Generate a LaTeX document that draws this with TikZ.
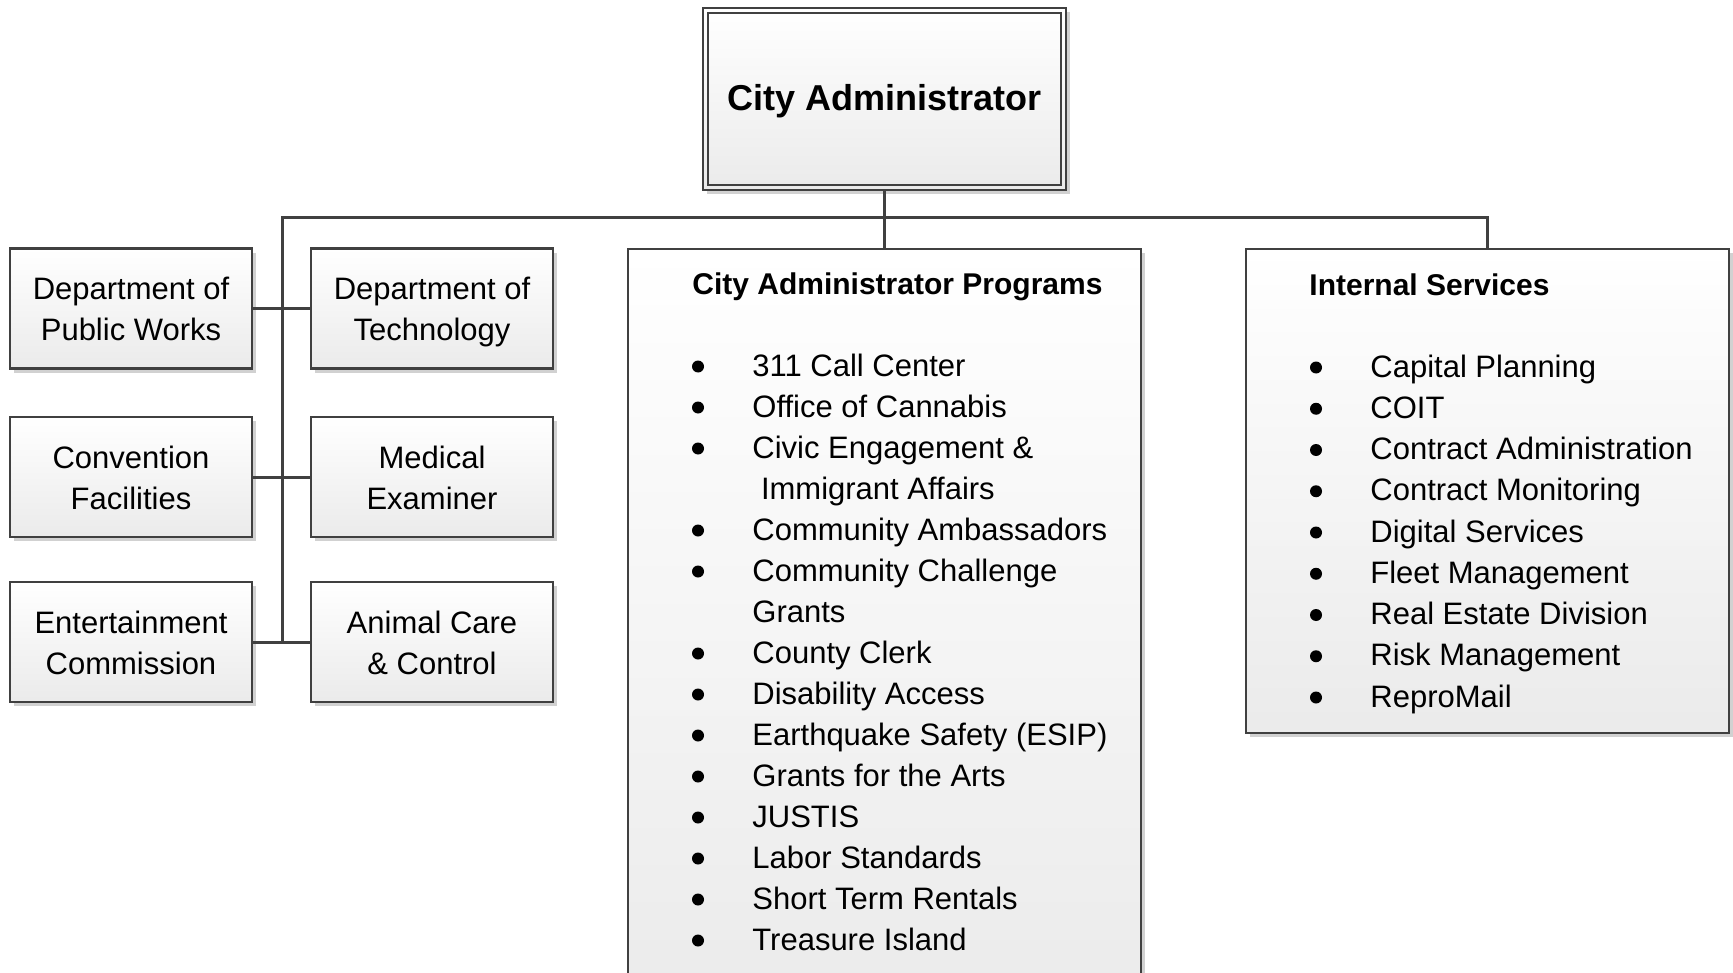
\documentclass[tikz,border=0pt]{standalone}
\usepackage{fontspec}
\setmainfont{Liberation Sans}
\usetikzlibrary{shadows}
\definecolor{edge}{HTML}{404040}
\newcommand\twoline[2]{\raisebox{-1.7pt}[\height][\depth]{\begin{tabular}{@{}c@{}}#1\\#2\end{tabular}}}
\tikzset{
  box/.style={draw=edge, line width=1.1pt, top color=white, bottom color=black!8,
    drop shadow={shadow xshift=2pt, shadow yshift=-2pt, opacity=0.18, fill=black},
    inner sep=0pt, align=center, font=\fontsize{15.5}{20.5}\selectfont},
  conn/.style={draw=edge, line width=1.5pt},
  item/.style={anchor=base west, inner sep=0pt, font=\fontsize{15.5}{20.5}\selectfont},
  head/.style={anchor=base west, inner sep=0pt, font=\fontsize{15}{18}\selectfont\bfseries},
  dot/.style={circle, fill=black, inner sep=0pt, minimum size=6pt},
}
\begin{document}
\begin{tikzpicture}[x=0.5pt, y=-0.5pt]
\useasboundingbox (0,0) rectangle (1733,973);
\clip (0,0) rectangle (1733,973);
\fill[white] (0,0) rectangle (1733,973);

% top box
\node[box, minimum width=181.5pt, minimum height=91pt,
      font=\fontsize{18}{22}\selectfont\bfseries] (ca) at (884.5,99) {\raisebox{-1.1pt}[\height][\depth]{City Administrator}};
\draw[draw=edge, line width=1.1pt] ([shift={(3pt,-3pt)}]ca.north west) rectangle ([shift={(-3pt,3pt)}]ca.south east);

% left units
\node[box, minimum width=121pt, minimum height=60pt] (l1) at (131,308.5) {\twoline{Department of}{Public Works}};
\node[box, minimum width=121pt, minimum height=60pt] (t1) at (432,308.5) {\twoline{Department of}{Technology}};
\node[box, minimum width=121pt, minimum height=60pt] (l2) at (131,477) {\twoline{Convention}{Facilities}};
\node[box, minimum width=121pt, minimum height=60pt] (t2) at (432,477) {\twoline{Medical}{Examiner}};
\node[box, minimum width=121pt, minimum height=60pt] (l3) at (131,642) {\twoline{Entertainment}{Commission}};
\node[box, minimum width=121pt, minimum height=60pt] (t3) at (432,642) {\twoline{Animal Care}{\& Control}};

% program and services boxes
\node[box, minimum width=256.5pt, minimum height=380.5pt] (prog) at (884.5,629.5) {};
\node[box, minimum width=241.5pt, minimum height=242pt] (svc) at (1487.5,491) {};

% connectors
\coordinate (busL) at (282,218);
\draw[conn] (ca.south) -- (prog.north);
\draw[conn] (busL |- t3.west) -- (busL) -- (svc.north |- busL) -- (svc.north);
\draw[conn] (l1.east) -- (t1.west);
\draw[conn] (l2.east) -- (t2.west);
\draw[conn] (l3.east) -- (t3.west);

% program list
\node[head] (progh) at (692,294) {City Administrator Programs};
\foreach \b/\t [count=\i from 0] in {
  1/311 Call Center, 1/Office of Cannabis, 1/Civic Engagement \&, 0/{\ Immigrant Affairs},
  1/Community Ambassadors, 1/Community Challenge, 0/Grants, 1/County Clerk,
  1/Disability Access, 1/Earthquake Safety (ESIP), 1/Grants for the Arts, 1/JUSTIS,
  1/Labor Standards, 1/Short Term Rentals, 1/Treasure Island} {
  \node[item] (pi\i) at (752,{376+41*\i}) {\t};
  \ifnum\b=1 \node[dot] (pb\i) at (698,{366.5+41*\i}) {}; \fi
}

% services list
\node[head] (svch) at (1309,295) {Internal Services};
\foreach \t [count=\i from 0] in {
  Capital Planning, COIT, Contract Administration, Contract Monitoring,
  Digital Services, Fleet Management, Real Estate Division, Risk Management, ReproMail} {
  \node[item] (si\i) at (1370,{377+41.25*\i}) {\t};
  \node[dot] (sb\i) at (1316,{367.5+41.25*\i}) {};
}
\end{tikzpicture}
\end{document}
